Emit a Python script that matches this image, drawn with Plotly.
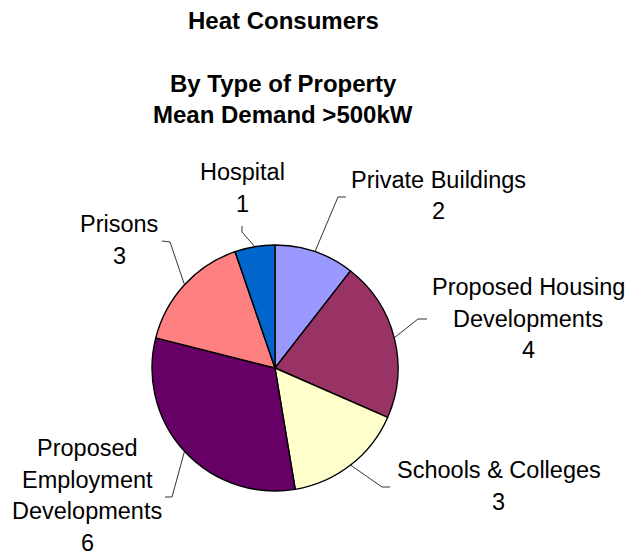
import math
import plotly.graph_objects as go

W, H = 631, 557

categories = ["Private Buildings", "Proposed Housing Developments", "Schools & Colleges",
              "Proposed Employment Developments", "Prisons", "Hospital"]
values = [2, 4, 3, 6, 3, 1]
label_lines = [["Private Buildings"], ["Proposed Housing", "Developments"], ["Schools & Colleges"],
               ["Proposed", "Employment", "Developments"], ["Prisons"], ["Hospital"]]
colors = ["#9999FF", "#993366", "#FFFFCC", "#660066", "#FF8080", "#0066CC"]

title_lines = ["Heat Consumers", "By Type of Property", "Mean Demand >500kW"]

FONT = "Liberation Sans, Arial, sans-serif"

# layout (pixels)
cx, cy, R = 275, 368, 123
title_x = 283
title_y = [20, 83, 114]
label_pos = [(438, 180), (528, 287), (499, 470), (87, 448), (119, 224), (242, 172)]
line_gap = 31.5
elbows = [((338, 197), (346, 197)), ((418, 319), (427, 319)), ((382, 487), (390, 487)),
          ((172, 497), (165, 497)), ((170, 242), (162, 241)), ((242, 232), (242, 226))]

def px(x):
    return x / W

def py(y):
    return 1 - y / H

fig = go.Figure(go.Pie(
    labels=categories, values=values, sort=False, direction="clockwise", rotation=0,
    marker=dict(colors=colors, line=dict(color="black", width=1.4)),
    textinfo="none", showlegend=False,
    domain=dict(x=[px(cx - R), px(cx + R)], y=[py(cy + R), py(cy - R)]),
))

annotations = []
for t, y in zip(title_lines, title_y):
    annotations.append(dict(text="<b>%s</b>" % t, x=px(title_x), y=py(y), xref="paper", yref="paper",
                            showarrow=False, xanchor="center", yanchor="middle",
                            font=dict(family=FONT, size=24, color="black")))

shapes = []
total = sum(values)
cum = 0
for i, v in enumerate(values):
    mid = (cum + v / 2) / total * 2 * math.pi
    cum += v
    ex, ey = cx + R * math.sin(mid), cy - R * math.cos(mid)
    (ax, ay), (bx, by) = elbows[i]
    shapes.append(dict(type="path", xref="paper", yref="paper",
                       path="M %f %f L %f %f L %f %f" % (px(ex), py(ey), px(ax), py(ay), px(bx), py(by)),
                       line=dict(color="black", width=0.8)))
    lx, ly = label_pos[i]
    lines = label_lines[i] + [str(v)]
    for k, txt in enumerate(lines):
        annotations.append(dict(text=txt, x=px(lx), y=py(ly + k * line_gap),
                                xref="paper", yref="paper", showarrow=False,
                                xanchor="center", yanchor="middle", align="center",
                                font=dict(family=FONT, size=23.5, color="black")))

fig.update_layout(width=W, height=H, margin=dict(l=0, r=0, t=0, b=0),
                  paper_bgcolor="white", plot_bgcolor="white",
                  annotations=annotations, shapes=shapes)

fig.write_html("out.html", config={"displayModeBar": False},
               post_script="document.body.style.margin='0';document.body.style.padding='0';")
